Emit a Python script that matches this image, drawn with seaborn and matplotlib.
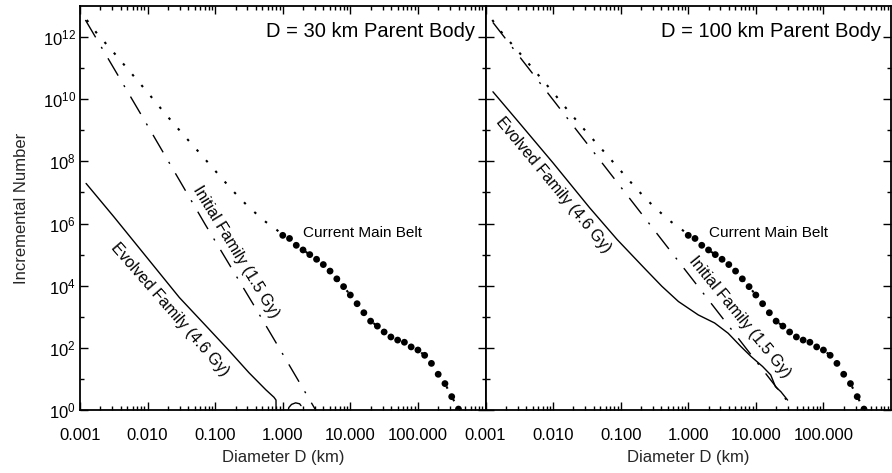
import numpy as np
import pandas as pd
import matplotlib
matplotlib.use("Agg")
import matplotlib.pyplot as plt
import seaborn as sns
from matplotlib.ticker import FixedLocator, FixedFormatter, NullFormatter, LogLocator

# ---------------- data (log10 values) ----------------
# Current main belt extrapolation (dotted line)
belt_ext_logD = [-2.9, -2.75, -2.5, -2.25, -2.0, -1.75, -1.5, -1.25, -1.0, -0.75, -0.5, -0.25, -0.1, 0.0]
belt_ext_logN = [12.55, 12.12, 11.5, 10.86, 10.22, 9.56, 8.93, 8.32, 7.70, 7.08, 6.52, 6.05, 5.82, 5.62]

# Current main belt (filled dots)
belt_logD = [0.0, 0.1, 0.2, 0.3, 0.4, 0.5, 0.6, 0.7, 0.8, 0.9, 1.0, 1.1, 1.2, 1.3,
             1.4, 1.5, 1.6, 1.7, 1.8, 1.9, 2.0, 2.1, 2.2, 2.3, 2.4, 2.5, 2.6]
belt_logN = [5.62, 5.52, 5.30, 5.15, 5.00, 4.85, 4.68, 4.47, 4.22, 3.97, 3.70, 3.42, 3.13, 2.86,
             2.70, 2.51, 2.35, 2.25, 2.18, 2.03, 1.93, 1.76, 1.50, 1.15, 0.85, 0.43, 0.03]

# D = 30 km parent body
init30_logD = [-2.92, -2.0, -1.15, -0.4, 0.0, 0.5]
init30_logN = [12.55, 9.15, 5.98, 3.27, 1.8, -0.05]
evol30_logD = [-2.91, -2.5, -2.0, -1.53, -1.09, -0.79, -0.5, -0.25, -0.13, -0.10, -0.095]
evol30_logN = [7.29, 6.22, 4.88, 3.62, 2.60, 1.90, 1.20, 0.65, 0.41, 0.32, -1.0]
evol30b_logD = [0.06, 0.09, 0.13, 0.19, 0.25, 0.27]
evol30b_logN = [-0.2, 0.08, 0.18, 0.23, 0.20, 0.14]

# D = 100 km parent body
init100_logD = [-2.89, -2.0, -1.0, 0.0, 1.0, 1.48]
init100_logN = [12.47, 9.98, 7.18, 4.38, 1.58, 0.24]
evol100_logD = [-2.89, -2.5, -2.0, -1.46, -1.05, -0.63, -0.39, -0.145, 0.148, 0.39, 0.59,
                0.78, 0.93, 1.10, 1.22, 1.29, 1.37, 1.47]
evol100_logN = [10.24, 9.24, 7.95, 6.51, 5.48, 4.52, 3.98, 3.49, 3.06, 2.80, 2.47,
                2.04, 1.72, 1.40, 1.13, 0.75, 0.59, 0.32]

x_major = [0.001, 0.01, 0.1, 1.0, 10.0, 100.0]
x_labels = ["0.001", "0.010", "0.100", "1.000", "10.000", "100.000"]
y_major = [1e0, 1e2, 1e4, 1e6, 1e8, 1e10, 1e12]
y_labels = [r"$10^{0}$", r"$10^{2}$", r"$10^{4}$", r"$10^{6}$", r"$10^{8}$", r"$10^{10}$", r"$10^{12}$"]
y_minor = [1e1, 1e3, 1e5, 1e7, 1e9, 1e11]

panel_titles = ["D = 30 km Parent Body", "D = 100 km Parent Body"]


def frame(logD, logN):
    return pd.DataFrame({"D": np.power(10.0, logD), "N": np.power(10.0, logN)})


# ---------------- style ----------------
sns.set_theme(style="ticks")
plt.rcParams["font.family"] = ["Liberation Sans", "DejaVu Sans"]
plt.rcParams["mathtext.fontset"] = "custom"
plt.rcParams["mathtext.rm"] = "Liberation Sans"
plt.rcParams["mathtext.it"] = "Liberation Sans:italic"
plt.rcParams["xtick.direction"] = "in"
plt.rcParams["ytick.direction"] = "in"
plt.rcParams["axes.linewidth"] = 1.3
plt.rcParams["text.color"] = "black"

W, H = 892, 473
fig = plt.figure(figsize=(W / 100, H / 100), dpi=100)
bottom = 1 - 410 / H
height = 404 / H
axL = fig.add_axes([80 / W, bottom, 405.5 / W, height])
axR = fig.add_axes([485.5 / W, bottom, 405.5 / W, height])

dotted = (0, (1.2, 5.6))
dashdot = (0, (14.5, 8, 1.5, 8))
lw = 1.0
lw_dot = 1.5

datasets = [
    (axL, init30_logD, init30_logN, [(evol30_logD, evol30_logN), (evol30b_logD, evol30b_logN)]),
    (axR, init100_logD, init100_logN, [(evol100_logD, evol100_logN)]),
]

for i, (ax, iD, iN, evols) in enumerate(datasets):
    sns.lineplot(data=frame(belt_ext_logD, belt_ext_logN), x="D", y="N", ax=ax, color="black",
                 linewidth=lw_dot, linestyle=dotted, estimator=None, sort=False)
    sns.lineplot(data=frame(belt_logD, belt_logN), x="D", y="N", ax=ax, color="black",
                 linewidth=lw_dot, linestyle=dotted, estimator=None, sort=False)
    sns.scatterplot(data=frame(belt_logD, belt_logN), x="D", y="N", ax=ax, color="black",
                    s=24, edgecolor="none", zorder=5)
    sns.lineplot(data=frame(iD, iN), x="D", y="N", ax=ax, color="black",
                 linewidth=lw, linestyle=dashdot, estimator=None, sort=False)
    for eD, eN in evols:
        sns.lineplot(data=frame(eD, eN), x="D", y="N", ax=ax, color="black",
                     linewidth=lw, linestyle="-", estimator=None, sort=False)

    ax.set_xscale("log")
    ax.set_yscale("log")
    ax.set_xlim(1e-3, 1e3)
    ax.set_ylim(1, 1e13)

    ax.xaxis.set_major_locator(FixedLocator(x_major))
    ax.xaxis.set_major_formatter(FixedFormatter(x_labels))
    ax.xaxis.set_minor_locator(LogLocator(base=10, subs=np.arange(2, 10), numticks=20))
    ax.xaxis.set_minor_formatter(NullFormatter())
    ax.yaxis.set_major_locator(FixedLocator(y_major))
    ax.yaxis.set_minor_locator(FixedLocator(y_minor))
    ax.yaxis.set_minor_formatter(NullFormatter())
    if i == 0:
        ax.yaxis.set_major_formatter(FixedFormatter(y_labels))
        ax.set_ylabel("Incremental Number", fontsize=12, labelpad=10)
    else:
        ax.yaxis.set_major_formatter(NullFormatter())
        ax.set_ylabel("")
    ax.set_xlabel("Diameter D (km)", fontsize=12, labelpad=5)

    ax.tick_params(which="both", top=True, right=True, direction="in", width=1.0, colors="black")
    ax.tick_params(which="major", length=6, labelsize=12)
    ax.tick_params(which="minor", length=3)
    ax.tick_params(axis="x", which="major", pad=13)
    ax.tick_params(axis="y", which="major", pad=3)
    for sp in ax.spines.values():
        sp.set_color("black")
        sp.set_linewidth(1.3)

    ax.text(0.975, 0.938, panel_titles[i], transform=ax.transAxes, ha="right", va="center",
            fontsize=14.5)
    ax.text(10 ** 0.3, 10 ** 5.71, "Current Main Belt", ha="left", va="center", fontsize=11)

# rotated curve labels
axL.text(10 ** -0.696, 10 ** 5.09, "Initial Family (1.5 Gy)", rotation=-58.6,
         rotation_mode="anchor", ha="center", va="center", fontsize=11.5)
axL.text(10 ** -1.676, 10 ** 3.23, "Evolved Family (4.6 Gy)", rotation=-48.9,
         rotation_mode="anchor", ha="center", va="center", fontsize=11.5)
axR.text(10 ** -2.0, 10 ** 7.23, "Evolved Family (4.6 Gy)", rotation=-50.3,
         rotation_mode="anchor", ha="center", va="center", fontsize=11.5)
axR.text(10 ** 0.758, 10 ** 2.98, "Initial Family (1.5 Gy)", rotation=-50.8,
         rotation_mode="anchor", ha="center", va="center", fontsize=11.5)

fig.savefig("out.png", dpi=100, facecolor="white")
